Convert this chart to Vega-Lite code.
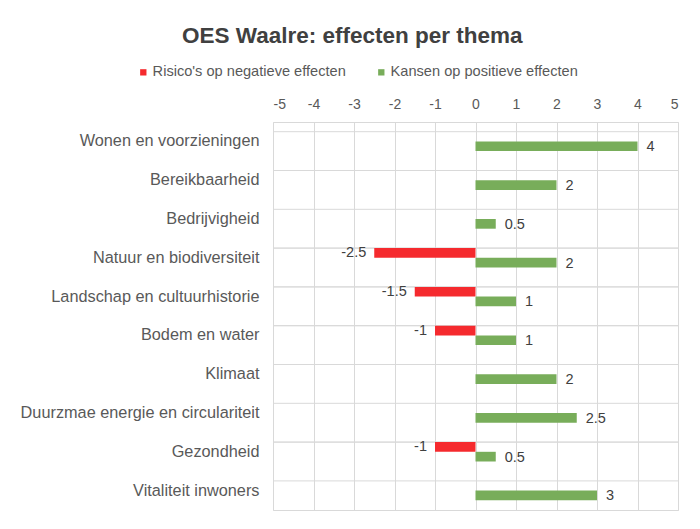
{
  "$schema": "https://vega.github.io/schema/vega-lite/v6.json",
  "autosize": {"type": "none"},
  "padding": {"left": 273, "top": 122, "right": 22, "bottom": 19},
  "width": 405,
  "height": 388,
  "background": "white",
  "title": {
    "text": "OES Waalre: effecten per thema",
    "font": "Liberation Sans",
    "fontSize": 22.5,
    "fontWeight": "bold",
    "color": "#404040",
    "anchor": "middle",
    "frame": "bounds",
    "offset": 18,
    "dx": 3
  },
  "config": {
    "locale": {"number": {"decimal": ".", "thousands": ",", "grouping": [3], "currency": ["$", ""], "minus": "-"}},
    "font": "Liberation Sans",
    "view": {"stroke": "#d9d9d9", "strokeWidth": 1}
  },
  "data": {
    "values": [
      {"thema": "Wonen en voorzieningen", "reeks": "Kansen op positieve effecten", "waarde": 4},
      {"thema": "Bereikbaarheid", "reeks": "Kansen op positieve effecten", "waarde": 2},
      {"thema": "Bedrijvigheid", "reeks": "Kansen op positieve effecten", "waarde": 0.5},
      {"thema": "Natuur en biodiversiteit", "reeks": "Risico's op negatieve effecten", "waarde": -2.5},
      {"thema": "Natuur en biodiversiteit", "reeks": "Kansen op positieve effecten", "waarde": 2},
      {"thema": "Landschap en cultuurhistorie", "reeks": "Risico's op negatieve effecten", "waarde": -1.5},
      {"thema": "Landschap en cultuurhistorie", "reeks": "Kansen op positieve effecten", "waarde": 1},
      {"thema": "Bodem en water", "reeks": "Risico's op negatieve effecten", "waarde": -1},
      {"thema": "Bodem en water", "reeks": "Kansen op positieve effecten", "waarde": 1},
      {"thema": "Klimaat", "reeks": "Kansen op positieve effecten", "waarde": 2},
      {"thema": "Duurzmae energie en circulariteit", "reeks": "Kansen op positieve effecten", "waarde": 2.5},
      {"thema": "Gezondheid", "reeks": "Risico's op negatieve effecten", "waarde": -1},
      {"thema": "Gezondheid", "reeks": "Kansen op positieve effecten", "waarde": 0.5},
      {"thema": "Vitaliteit inwoners ", "reeks": "Kansen op positieve effecten", "waarde": 3}
    ]
  },
  "encoding": {
    "y": {
      "field": "thema",
      "type": "nominal",
      "sort": null,
      "scale": {"paddingInner": 0.5, "paddingOuter": 0.25},
      "axis": {
        "title": null,
        "grid": false,
        "domain": false,
        "ticks": false,
        "labelFontSize": 16.3,
        "labelColor": "#595959",
        "labelPadding": 14,
        "labelLimit": 300
      }
    }
  },
  "layer": [
    {
      "mark": {"type": "rule", "color": "#d9d9d9", "strokeWidth": 1},
      "encoding": {
        "y": {"field": "thema", "type": "nominal", "sort": null, "bandPosition": 0}
      }
    },
    {
      "mark": {"type": "bar"},
      "encoding": {
        "x": {
          "field": "waarde",
          "type": "quantitative",
          "scale": {"domain": [-5, 5], "nice": false},
          "axis": {
            "orient": "top",
            "title": null,
            "values": [-5, -4, -3, -2, -1, 0, 1, 2, 3, 4, 5],
            "format": "d",
            "grid": true,
            "gridColor": "#d9d9d9",
            "domain": false,
            "ticks": false,
            "labelFontSize": 14,
            "labelColor": "#595959",
            "labelPadding": 11
          }
        },
        "yOffset": {
          "field": "reeks",
          "type": "nominal",
          "scale": {"domain": ["Risico's op negatieve effecten", "Kansen op positieve effecten"], "paddingInner": 0}
        },
        "color": {
          "field": "reeks",
          "type": "nominal",
          "scale": {"domain": ["Risico's op negatieve effecten", "Kansen op positieve effecten"], "range": ["#f52a2e", "#78ad5a"]},
          "legend": {
            "title": null,
            "orient": "none",
            "legendX": -137,
            "legendY": -57,
            "direction": "horizontal",
            "symbolType": "square",
            "symbolSize": 40,
            "symbolStrokeWidth": 0,
            "labelFontSize": 14.6,
            "labelColor": "#595959",
            "labelOffset": 2,
            "columnPadding": 28,
            "labelLimit": 300
          }
        }
      }
    },
    {
      "transform": [{"filter": "datum.waarde < 0"}],
      "mark": {"type": "text", "align": "right", "baseline": "middle", "dx": -8, "fontSize": 14.5, "color": "#404040"},
      "encoding": {
        "x": {"field": "waarde", "type": "quantitative"},
        "yOffset": {"field": "reeks", "type": "nominal"},
        "text": {"field": "waarde", "type": "quantitative", "format": "~g"}
      }
    },
    {
      "transform": [{"filter": "datum.waarde > 0"}],
      "mark": {"type": "text", "align": "left", "baseline": "middle", "dx": 9, "dy": 1, "fontSize": 14.5, "color": "#404040"},
      "encoding": {
        "x": {"field": "waarde", "type": "quantitative"},
        "yOffset": {"field": "reeks", "type": "nominal"},
        "text": {"field": "waarde", "type": "quantitative", "format": "~g"}
      }
    }
  ]
}
